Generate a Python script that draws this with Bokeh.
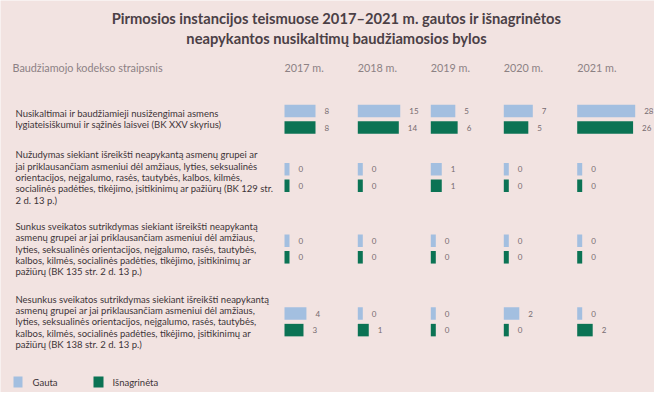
import numpy as np
from bokeh.plotting import figure
from bokeh.models import Range1d
from bokeh.core.properties import value
from bokeh.embed import file_html
from bokeh.resources import INLINE

# ---------------- data ----------------
title_lines = ["Pirmosios instancijos teismuose 2017\u20132021 m. gautos ir i\u0161nagrin\u0117tos",
               "neapykantos nusikaltim\u0173 baud\u017eiamosios bylos"]
header_label = "Baud\u017eiamojo kodekso straipsnis"
years = ["2017 m.", "2018 m.", "2019 m.", "2020 m.", "2021 m."]
categories = [
    ["Nusikaltimai ir baud\u017eiamieji nusi\u017eengimai asmens",
     "lygiateisi\u0161kumui ir s\u0105\u017ein\u0117s laisvei (BK XXV skyrius)"],
    ["Nu\u017eudymas siekiant i\u0161reik\u0161ti neapykant\u0105 asmen\u0173 grupei ar",
     "jai priklausan\u010diam asmeniui d\u0117l am\u017eiaus, lyties, seksualin\u0117s",
     "orientacijos, ne\u012fgalumo, ras\u0117s, tautyb\u0117s, kalbos, kilm\u0117s,",
     "socialin\u0117s pad\u0117ties, tik\u0117jimo, \u012fsitikinim\u0173 ar pa\u017ei\u016br\u0173 (BK 129 str.",
     "2 d. 13 p.)"],
    ["Sunkus sveikatos sutrikdymas siekiant i\u0161reik\u0161ti neapykant\u0105",
     "asmen\u0173 grupei ar jai priklausan\u010diam asmeniui d\u0117l am\u017eiaus,",
     "lyties, seksualin\u0117s orientacijos, ne\u012fgalumo, ras\u0117s, tautyb\u0117s,",
     "kalbos, kilm\u0117s, socialin\u0117s pad\u0117ties, tik\u0117jimo, \u012fsitikinim\u0173 ar",
     "pa\u017ei\u016br\u0173  (BK 135 str. 2 d. 13 p.)"],
    ["Nesunkus sveikatos sutrikdymas siekiant i\u0161reik\u0161ti neapykant\u0105",
     "asmen\u0173 grupei ar jai priklausan\u010diam asmeniui d\u0117l am\u017eiaus,",
     "lyties, seksualin\u0117s orientacijos, ne\u012fgalumo, ras\u0117s, tautyb\u0117s,",
     "kalbos, kilm\u0117s, socialin\u0117s pad\u0117ties, tik\u0117jimo, \u012fsitikinim\u0173 ar",
     "pa\u017ei\u016br\u0173 (BK 138 str. 2 d. 13 p.)"],
]
gauta = [[8, 15, 5, 7, 28],
         [0, 0, 1, 0, 0],
         [0, 0, 0, 0, 0],
         [4, 0, 0, 2, 0]]
isnagrineta = [[8, 14, 6, 5, 26],
               [0, 0, 1, 0, 0],
               [0, 0, 0, 0, 0],
               [3, 1, 0, 0, 2]]
series_names = ["Gauta", "I\u0161nagrin\u0117ta"]

# ---------------- style / layout ----------------
BG = "#f2e3e1"
C_BLUE = "#a3bfe0"
C_GREEN = "#0b7354"
C_TEXT = "#3d3438"
C_TITLE = "#4b4046"
C_GRAY = "#8c8184"
C_VAL = "#766b70"
FONT = "Lato"

col_left = [284, 357.3, 430.3, 503.3, 576.7]
row_center = [118.7, 177.0, 248.5, 321.3]
bar_h = 12.5
bar_off = 8.3
line_gap = 11.4
text_x = 15
px_per_sqrt = 10.96
min_len = 5

W, H = 654, 392
p = figure(width=W, height=H, output_backend="svg", toolbar_location=None,
           x_range=Range1d(0, W), y_range=Range1d(H, 0),
           x_axis_location=None, y_axis_location=None,
           min_border=0, outline_line_color=None,
           background_fill_color=BG, border_fill_color=BG)
p.grid.visible = False

# title
p.text(x=[336, 336], y=[17.3, 37.5], text=title_lines, text_font=value(FONT),
       text_font_style="bold", text_font_size="14.7px", text_color=C_TITLE,
       text_align="center", text_baseline="middle")

# header
p.text(x=[12], y=[67], text=[header_label], text_font=value(FONT),
       text_font_size="10.8px", text_color=C_GRAY, text_baseline="middle")
p.text(x=col_left, y=[67] * len(years), text=years, text_font=value(FONT),
       text_font_size="10.8px", text_color=C_GRAY, text_baseline="middle")

# category texts
tx, ty, tt = [], [], []
for lines, yc in zip(categories, row_center):
    n = len(lines)
    for i, ln in enumerate(lines):
        tx.append(text_x)
        ty.append(yc + (i - (n - 1) / 2) * line_gap)
        tt.append(ln)
p.text(x=tx, y=ty, text=tt, text_font=value(FONT), text_font_size="9.5px",
       text_color=C_TEXT, text_baseline="middle")

# bars
def bar_len(v):
    return max(min_len, px_per_sqrt * np.sqrt(v))

for series, color, sign in [(gauta, C_BLUE, -1), (isnagrineta, C_GREEN, 1)]:
    left, right, top, bottom, lx, ly, lt = [], [], [], [], [], [], []
    for r, yc in enumerate(row_center):
        ym = yc + sign * bar_off
        for c, x0 in enumerate(col_left):
            v = series[r][c]
            L = bar_len(v)
            left.append(x0); right.append(x0 + L)
            top.append(ym - bar_h / 2); bottom.append(ym + bar_h / 2)
            lx.append(x0 + L + 9); ly.append(ym); lt.append(str(v))
    p.quad(left=left, right=right, top=top, bottom=bottom,
           fill_color=color, line_color=None)
    p.text(x=lx, y=ly, text=lt, text_font=value(FONT), text_font_size="8px",
           text_color=C_VAL, text_baseline="middle")

# legend
p.quad(left=[13, 93], right=[22, 103], top=[376, 376], bottom=[387, 387],
       fill_color=[C_BLUE, C_GREEN], line_color=None)
p.text(x=[32, 112], y=[381.5, 381.5], text=series_names, text_font=value(FONT),
       text_font_size="9.5px", text_color=C_TEXT, text_baseline="middle")

html = file_html(p, INLINE)
html = html.replace("<body>", '<body style="background-color:%s;">' % BG, 1)
open("out.html", "w").write(html)
